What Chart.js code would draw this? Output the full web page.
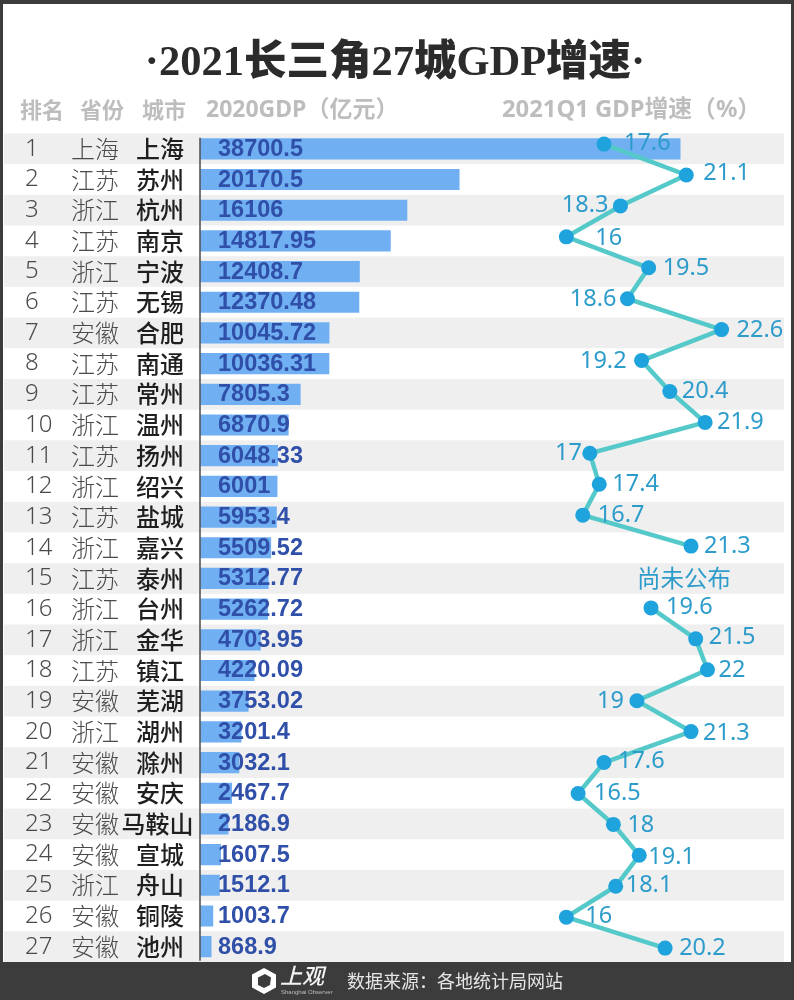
<!DOCTYPE html>
<html lang="zh">
<head>
<meta charset="utf-8">
<style>html,body{margin:0;padding:0;background:#3c3c3c}canvas{display:block}</style>
<script src="https://cdn.jsdelivr.net/npm/chart.js@4/dist/chart.umd.min.js"></script>
</head>
<body>
<canvas id="c" width="794" height="1000"></canvas>
<script>
const titleText = '·2021长三角27城GDP增速·';
const ranks = [1,2,3,4,5,6,7,8,9,10,11,12,13,14,15,16,17,18,19,20,21,22,23,24,25,26,27];
const provinces = ['上海','江苏','浙江','江苏','浙江','江苏','安徽','江苏','江苏','浙江','江苏','浙江','江苏','浙江','江苏','浙江','浙江','江苏','安徽','浙江','安徽','安徽','安徽','安徽','浙江','安徽','安徽'];
const cities = ['上海','苏州','杭州','南京','宁波','无锡','合肥','南通','常州','温州','扬州','绍兴','盐城','嘉兴','泰州','台州','金华','镇江','芜湖','湖州','滁州','安庆','马鞍山','宣城','舟山','铜陵','池州'];
const gdp = [38700.5,20170.5,16106,14817.95,12408.7,12370.48,10045.72,10036.31,7805.3,6870.9,6048.33,6001,5953.4,5509.52,5312.77,5262.72,4703.95,4220.09,3753.02,3201.4,3032.1,2467.7,2186.9,1607.5,1512.1,1003.7,868.9];
const growth = [17.6,21.1,18.3,16,19.5,18.6,22.6,19.2,20.4,21.9,17,17.4,16.7,21.3,null,19.6,21.5,22,19,21.3,17.6,16.5,18,19.1,18.1,16,20.2];
const notPublished = '尚未公布';
const headers = ['排名','省份','城市','2020GDP（亿元）','2021Q1 GDP增速（%）'];
const sourceText = '数据来源：各地统计局网站';

// Label placement per row: gap from the point (negative = label sits on the left), and vertical nudge.
const labelGap = [20,17,-12,29,14,-11,15,-15,12,12,-8,13,15,13,0,15,13,11,-13,12,14,16,14,9,10,19,14];
const labelNudge = [-1,-2,-1,1,1,1,1,1,0,0,0,0,0,0,0,-1,-2,1,1,2,-1,0,1,2,-1,-1,0];

const cjk = '"Noto Sans CJK SC"';

const decor = {
  id: 'decor',
  beforeDraw(chart) {
    const c = chart.ctx;
    c.save();
    c.fillStyle = '#3c3c3c';
    c.fillRect(0, 0, 794, 1000);
    c.fillStyle = '#ffffff';
    c.fillRect(3, 4, 788, 958);
    c.restore();
  },
  beforeDatasetsDraw(chart) {
    const c = chart.ctx, y = chart.scales.y;
    const h = y.getPixelForValue(1) - y.getPixelForValue(0);
    c.save();
    c.fillStyle = '#efefef';
    ranks.forEach((r, i) => {
      if (i % 2 === 0) c.fillRect(4, y.getPixelForValue(i) - h / 2, 780, h);
    });
    // Header row
    c.fillStyle = '#bdbdbd';
    c.textBaseline = 'middle';
    c.textAlign = 'center';
    c.font = `bold 22px ${cjk}`;
    c.fillText(headers[0], 42, 110);
    c.fillText(headers[1], 102, 110);
    c.fillText(headers[2], 164, 110);
    c.textAlign = 'left';
    c.font = `bold 23px "Noto Sans",${cjk}`;
    c.fillText(headers[3], 206, 110);
    c.font = `bold 23.8px "Noto Sans",${cjk}`;
    c.fillText(headers[4], 502, 110);
    // Row text columns
    ranks.forEach((r, i) => {
      const py = y.getPixelForValue(i);
      c.textAlign = 'left';
      c.fillStyle = '#4a4a4a';
      c.font = '300 24px "Noto Sans"';
      c.fillText(String(r), 25, py);
      c.textAlign = 'center';
      c.font = `300 24px ${cjk}`;
      c.fillText(provinces[i], 95, py);
      c.fillStyle = '#1f1f1f';
      c.font = `500 24px ${cjk}`;
      c.fillText(cities[i], cities[i].length > 2 ? 157.5 : 160, py);
    });
    c.restore();
  },
  afterDatasetsDraw(chart) {
    const c = chart.ctx, y = chart.scales.y, row = chart.scales.yRow, gx = chart.scales.xGrowth;
    c.save();
    // Axis line
    c.strokeStyle = '#555555';
    c.lineWidth = 1.6;
    c.beginPath();
    c.moveTo(200, y.getPixelForValue(0) - 11);
    c.lineTo(200, y.getPixelForValue(26) + 14);
    c.stroke();
    // GDP value labels
    c.textBaseline = 'middle';
    c.textAlign = 'left';
    c.fillStyle = '#2f4fa8';
    c.font = 'bold 23.5px "Liberation Sans"';
    gdp.forEach((v, i) => c.fillText(String(v), 218, y.getPixelForValue(i) + 0.5));
    // Growth labels
    c.fillStyle = '#2e9ccb';
    c.font = '23.5px "Noto Sans"';
    growth.forEach((v, i) => {
      const py = row.getPixelForValue(ranks[i]);
      if (v === null) {
        c.textAlign = 'center';
        c.font = `23.5px ${cjk}`;
        c.fillText(notPublished, 684, y.getPixelForValue(i));
        c.font = '23.5px "Noto Sans"';
        return;
      }
      const g = labelGap[i];
      c.textAlign = g < 0 ? 'right' : 'left';
      c.fillText(String(v), gx.getPixelForValue(v) + g, py + labelNudge[i]);
    });
    // Footer
    c.fillStyle = '#ffffff';
    c.beginPath();
    [[264,968],[276,974.5],[276,987.5],[264,994],[252,987.5],[252,974.5]].forEach((p, i) => i ? c.lineTo(p[0], p[1]) : c.moveTo(p[0], p[1]));
    c.closePath();
    c.fill();
    c.fillStyle = '#3c3c3c';
    c.beginPath();
    [[265,974],[271,977.5],[270,985],[264,988],[258,985],[258,977.5]].forEach((p, i) => i ? c.lineTo(p[0], p[1]) : c.moveTo(p[0], p[1]));
    c.closePath();
    c.fill();
    c.textAlign = 'left';
    c.fillStyle = '#f2f2f2';
    c.font = `italic 500 22px ${cjk}`;
    c.fillText('上观', 280, 976);
    c.font = '6px "Liberation Sans"';
    c.fillStyle = '#bdbdbd';
    c.fillText('Shanghai Observer', 281, 992);
    c.fillStyle = '#e6e6e6';
    c.font = `18px ${cjk}`;
    c.fillText(sourceText, 347, 981);
    c.restore();
  }
};

new Chart(document.getElementById('c'), {
  type: 'bar',
  data: {
    labels: cities,
    datasets: [
      {
        type: 'line',
        label: '2021Q1 GDP增速',
        data: growth.map((v, i) => ({ x: v, y: ranks[i] })),
        xAxisID: 'xGrowth',
        yAxisID: 'yRow',
        borderColor: '#55c9c9',
        borderWidth: 4.5,
        pointBackgroundColor: '#1fa3dc',
        pointBorderWidth: 0,
        pointRadius: 7.5,
        spanGaps: false,
        tension: 0,
        clip: false,
        order: 0
      },
      {
        label: '2020GDP',
        data: gdp,
        xAxisID: 'x',
        yAxisID: 'y',
        backgroundColor: '#70aff2',
        borderWidth: 0,
        barThickness: 20.5,
        grouped: false,
        clip: { left: 0, top: 0, bottom: 0, right: -106 },
        order: 1
      }
    ]
  },
  plugins: [decor],
  options: {
    indexAxis: 'y',
    responsive: false,
    animation: false,
    devicePixelRatio: 1,
    layout: { padding: { left: 0, right: 4, top: 0, bottom: 38 } },
    plugins: {
      legend: { display: false },
      tooltip: { enabled: false },
      title: {
        display: true,
        text: titleText,
        color: '#2b2b2b',
        font: { family: '"Liberation Serif",' + cjk, size: 42.5, weight: '900', lineHeight: 1.2 },
        padding: { top: 39, bottom: 43.5 }
      }
    },
    scales: {
      x: { axis: 'x', type: 'linear', display: false, min: 0, max: 45639 },
      xGrowth: { axis: 'x', type: 'linear', display: false, min: 0.426, max: 25.36 },
      y: {
        axis: 'y', type: 'category', offset: true,
        grid: { display: false }, border: { display: false }, ticks: { display: false },
        afterFit(s) { s.width = 200; }
      },
      yRow: { axis: 'y', type: 'linear', display: false, reverse: true, offset: false, min: 0.658, max: 27.45 }
    }
  }
});
</script>
</body>
</html>
